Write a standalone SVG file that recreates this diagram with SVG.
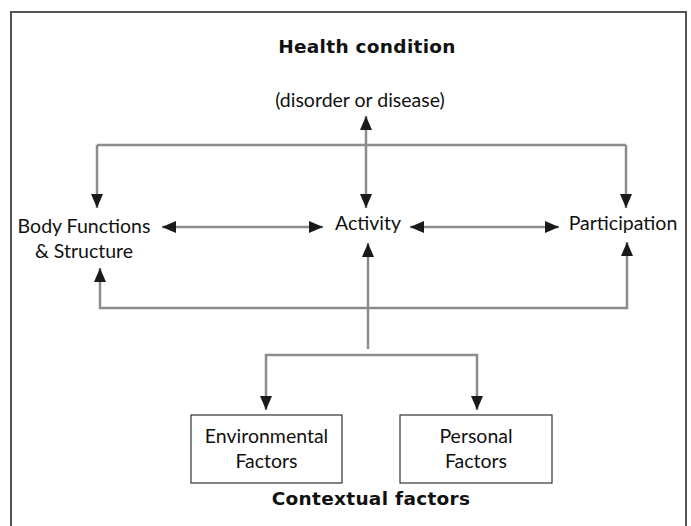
<svg xmlns="http://www.w3.org/2000/svg" width="691" height="526" viewBox="0 0 691 526">
<style>
text{font-family:Lato,"Open Sans","Liberation Sans",sans-serif;fill:#111}
.lbl{font-size:19.5px;text-anchor:middle}
.ttl{font-family:"DejaVu Sans",Lato,sans-serif;font-size:18.5px;letter-spacing:0.3px;font-weight:bold;text-anchor:middle}
.ln{fill:none;stroke:#8c8c8c;stroke-width:2.5}
.box{fill:#fff;stroke:#333;stroke-width:1.2}
</style>
<defs>
<marker id="ah" markerUnits="userSpaceOnUse" markerWidth="14" markerHeight="14" viewBox="0 0 14 12" refX="14" refY="6" orient="auto-start-reverse">
<path d="M0,0 L14,6 L0,12 Z" fill="#1a1a1a"/>
</marker>
</defs>
<rect x="11" y="12" width="675" height="530" fill="#fff" stroke="#555" stroke-width="2"/>
<g id="connectors">
<line class="ln" x1="366" y1="116" x2="366" y2="208" marker-start="url(#ah)" marker-end="url(#ah)"/>
<line class="ln" x1="97" y1="145" x2="626" y2="145"/>
<line class="ln" x1="97" y1="145" x2="97" y2="208" marker-end="url(#ah)"/>
<line class="ln" x1="626" y1="145" x2="626" y2="208" marker-end="url(#ah)"/>
<line class="ln" x1="162" y1="227" x2="323" y2="227" marker-start="url(#ah)" marker-end="url(#ah)"/>
<line class="ln" x1="410" y1="227" x2="559" y2="227" marker-start="url(#ah)" marker-end="url(#ah)"/>
<polyline class="ln" points="100,268 100,308 627,308 627,242" marker-start="url(#ah)" marker-end="url(#ah)"/>
<line class="ln" x1="368" y1="349" x2="368" y2="243" marker-end="url(#ah)"/>
<polyline class="ln" points="266,410 266,355 477,355 477,410" marker-start="url(#ah)" marker-end="url(#ah)"/>
</g>
<g id="health">
<text class="ttl" x="367" y="53">Health condition</text>
<text class="lbl" x="360" y="107">(disorder or disease)</text>
</g>
<g id="body">
<text class="lbl" x="84" y="233">Body Functions</text>
<text class="lbl" x="84" y="258">&amp; Structure</text>
</g>
<g id="activity"><text class="lbl" x="368" y="230">Activity</text></g>
<g id="participation"><text class="lbl" x="623" y="230">Participation</text></g>
<g id="environmental">
<rect class="box" x="191" y="415" width="151" height="68"/>
<text class="lbl" x="266.5" y="443">Environmental</text>
<text class="lbl" x="266.5" y="468">Factors</text>
</g>
<g id="personal">
<rect class="box" x="400" y="415" width="152" height="68"/>
<text class="lbl" x="476" y="443">Personal</text>
<text class="lbl" x="476" y="468">Factors</text>
</g>
<g id="contextual"><text class="ttl" x="371" y="505">Contextual factors</text></g>
</svg>
